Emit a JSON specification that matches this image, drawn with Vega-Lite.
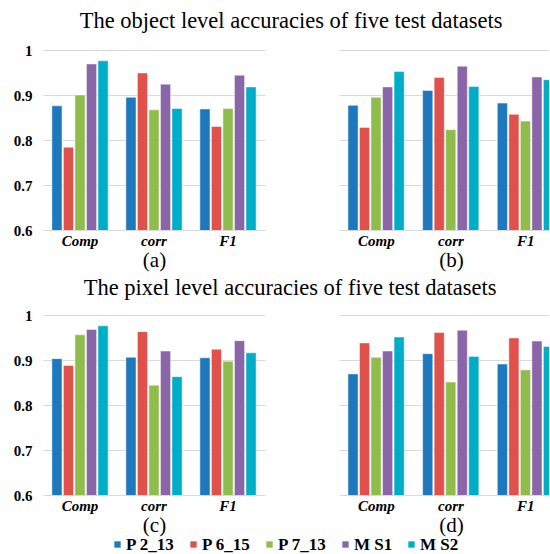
{
  "$schema": "https://vega.github.io/schema/vega-lite/v6.json",
  "padding": {"left": 13, "top": 9, "right": 0, "bottom": 0},
  "background": "#ffffff",
  "datasets": {
    "d": [
      {"panel": "a", "metric": "Comp", "series": "P 2_13", "value": 0.876},
      {"panel": "a", "metric": "Comp", "series": "P 6_15", "value": 0.784},
      {"panel": "a", "metric": "Comp", "series": "P 7_13", "value": 0.900},
      {"panel": "a", "metric": "Comp", "series": "M S1", "value": 0.969},
      {"panel": "a", "metric": "Comp", "series": "M S2", "value": 0.976},
      {"panel": "a", "metric": "corr", "series": "P 2_13", "value": 0.895},
      {"panel": "a", "metric": "corr", "series": "P 6_15", "value": 0.949},
      {"panel": "a", "metric": "corr", "series": "P 7_13", "value": 0.867},
      {"panel": "a", "metric": "corr", "series": "M S1", "value": 0.924},
      {"panel": "a", "metric": "corr", "series": "M S2", "value": 0.870},
      {"panel": "a", "metric": "F1", "series": "P 2_13", "value": 0.869},
      {"panel": "a", "metric": "F1", "series": "P 6_15", "value": 0.830},
      {"panel": "a", "metric": "F1", "series": "P 7_13", "value": 0.870},
      {"panel": "a", "metric": "F1", "series": "M S1", "value": 0.944},
      {"panel": "a", "metric": "F1", "series": "M S2", "value": 0.918},
      {"panel": "b", "metric": "Comp", "series": "P 2_13", "value": 0.877},
      {"panel": "b", "metric": "Comp", "series": "P 6_15", "value": 0.828},
      {"panel": "b", "metric": "Comp", "series": "P 7_13", "value": 0.895},
      {"panel": "b", "metric": "Comp", "series": "M S1", "value": 0.918},
      {"panel": "b", "metric": "Comp", "series": "M S2", "value": 0.952},
      {"panel": "b", "metric": "corr", "series": "P 2_13", "value": 0.910},
      {"panel": "b", "metric": "corr", "series": "P 6_15", "value": 0.939},
      {"panel": "b", "metric": "corr", "series": "P 7_13", "value": 0.823},
      {"panel": "b", "metric": "corr", "series": "M S1", "value": 0.964},
      {"panel": "b", "metric": "corr", "series": "M S2", "value": 0.919},
      {"panel": "b", "metric": "F1", "series": "P 2_13", "value": 0.882},
      {"panel": "b", "metric": "F1", "series": "P 6_15", "value": 0.857},
      {"panel": "b", "metric": "F1", "series": "P 7_13", "value": 0.842},
      {"panel": "b", "metric": "F1", "series": "M S1", "value": 0.940},
      {"panel": "b", "metric": "F1", "series": "M S2", "value": 0.934},
      {"panel": "c", "metric": "Comp", "series": "P 2_13", "value": 0.903},
      {"panel": "c", "metric": "Comp", "series": "P 6_15", "value": 0.888},
      {"panel": "c", "metric": "Comp", "series": "P 7_13", "value": 0.956},
      {"panel": "c", "metric": "Comp", "series": "M S1", "value": 0.968},
      {"panel": "c", "metric": "Comp", "series": "M S2", "value": 0.976},
      {"panel": "c", "metric": "corr", "series": "P 2_13", "value": 0.906},
      {"panel": "c", "metric": "corr", "series": "P 6_15", "value": 0.963},
      {"panel": "c", "metric": "corr", "series": "P 7_13", "value": 0.844},
      {"panel": "c", "metric": "corr", "series": "M S1", "value": 0.920},
      {"panel": "c", "metric": "corr", "series": "M S2", "value": 0.863},
      {"panel": "c", "metric": "F1", "series": "P 2_13", "value": 0.905},
      {"panel": "c", "metric": "F1", "series": "P 6_15", "value": 0.924},
      {"panel": "c", "metric": "F1", "series": "P 7_13", "value": 0.897},
      {"panel": "c", "metric": "F1", "series": "M S1", "value": 0.943},
      {"panel": "c", "metric": "F1", "series": "M S2", "value": 0.916},
      {"panel": "d", "metric": "Comp", "series": "P 2_13", "value": 0.869},
      {"panel": "d", "metric": "Comp", "series": "P 6_15", "value": 0.938},
      {"panel": "d", "metric": "Comp", "series": "P 7_13", "value": 0.906},
      {"panel": "d", "metric": "Comp", "series": "M S1", "value": 0.920},
      {"panel": "d", "metric": "Comp", "series": "M S2", "value": 0.951},
      {"panel": "d", "metric": "corr", "series": "P 2_13", "value": 0.914},
      {"panel": "d", "metric": "corr", "series": "P 6_15", "value": 0.961},
      {"panel": "d", "metric": "corr", "series": "P 7_13", "value": 0.851},
      {"panel": "d", "metric": "corr", "series": "M S1", "value": 0.966},
      {"panel": "d", "metric": "corr", "series": "M S2", "value": 0.908},
      {"panel": "d", "metric": "F1", "series": "P 2_13", "value": 0.891},
      {"panel": "d", "metric": "F1", "series": "P 6_15", "value": 0.949},
      {"panel": "d", "metric": "F1", "series": "P 7_13", "value": 0.878},
      {"panel": "d", "metric": "F1", "series": "M S1", "value": 0.942},
      {"panel": "d", "metric": "F1", "series": "M S2", "value": 0.930}
    ]
  },
  "config": {
    "view": {"stroke": null},
    "font": "Liberation Serif",
    "axis": {"labelFont": "Liberation Serif", "titleFont": "Liberation Serif", "domain": false, "ticks": false, "gridColor": "#d9d9d9", "gridWidth": 1, "labelColor": "#000000", "titleColor": "#000000"},
    "axisX": {"labelFontWeight": "bold", "labelFontStyle": "italic", "labelFontSize": 15, "labelAngle": 0, "labelPadding": 3, "titleFontSize": 21, "titleFontWeight": "normal", "titlePadding": 1, "grid": false},
    "axisY": {"labelFontWeight": "bold", "labelFontSize": 15, "labelPadding": 11, "grid": true},
    "title": {"font": "Liberation Serif", "fontSize": 22.5, "fontWeight": "normal", "color": "#000000", "anchor": "middle"},
    "legend": {"labelFont": "Liberation Serif", "labelFontWeight": "bold", "labelFontSize": 17, "labelColor": "#000000", "symbolType": "square", "symbolSize": 40, "symbolStrokeWidth": 0, "labelOffset": 0, "columnPadding": 10, "gridAlign": "none"}
  },
  "spacing": 6,
  "resolve": {"scale": {"color": "shared"}, "legend": {"color": "shared"}},
  "vconcat": [
    {
      "title": {"text": "The object level accuracies of five test datasets", "offset": 11, "dx": 10},
      "spacing": 0,
      "hconcat": [
        {
          "data": {"name": "d"},
          "transform": [{"filter": "datum.panel == 'a'"}],
          "width": 222, "height": 180,
          "mark": {"type": "bar", "stroke": "#ffffff", "strokeWidth": 0.8, "strokeOpacity": 0.6, "clip": true},
          "encoding": {
            "x": {"field": "metric", "type": "nominal", "sort": ["Comp", "corr", "F1"], "scale": {"paddingInner": 0.24, "paddingOuter": 0.12}, "axis": {"title": "(a)"}},
            "xOffset": {"field": "series", "type": "nominal", "sort": ["P 2_13", "P 6_15", "P 7_13", "M S1", "M S2"], "scale": {"paddingInner": 0.12}},
            "y": {"field": "value", "type": "quantitative", "scale": {"domain": [0.6, 1], "zero": false, "nice": false}, "axis": {"title": null, "values": [0.6, 0.7, 0.8, 0.9, 1], "labelExpr": "datum.value == 1 ? '1' : format(datum.value, '.1f')"}},
            "color": {"field": "series", "type": "nominal", "sort": ["P 2_13", "P 6_15", "P 7_13", "M S1", "M S2"], "scale": {"domain": ["P 2_13", "P 6_15", "P 7_13", "M S1", "M S2"], "range": ["#1e78be", "#e0514b", "#8fbc4b", "#8a66a8", "#00adc6"]}, "legend": {"title": null, "orient": "none", "direction": "horizontal", "legendX": 66, "legendY": 486}}
          }
        },
        {
          "data": {"name": "d"},
          "transform": [{"filter": "datum.panel == 'b'"}],
          "width": 284, "height": 180,
          "mark": {"type": "bar", "stroke": "#ffffff", "strokeWidth": 0.8, "strokeOpacity": 0.6, "clip": true},
          "encoding": {
            "x": {"field": "metric", "type": "nominal", "sort": ["Comp", "corr", "F1"], "scale": {"paddingInner": 0.24, "paddingOuter": 0.12, "range": [74, 298]}, "axis": {"title": "(b)"}},
            "xOffset": {"field": "series", "type": "nominal", "sort": ["P 2_13", "P 6_15", "P 7_13", "M S1", "M S2"], "scale": {"paddingInner": 0.12}},
            "y": {"field": "value", "type": "quantitative", "scale": {"domain": [0.6, 1], "zero": false, "nice": false}, "axis": {"title": null, "labels": false, "values": [0.6, 0.7, 0.8, 0.9, 1]}},
            "color": {"field": "series", "type": "nominal", "sort": ["P 2_13", "P 6_15", "P 7_13", "M S1", "M S2"]}
          }
        }
      ]
    },
    {
      "title": {"text": "The pixel level accuracies of five test datasets", "offset": 9, "dx": 9},
      "spacing": 0,
      "hconcat": [
        {
          "data": {"name": "d"},
          "transform": [{"filter": "datum.panel == 'c'"}],
          "width": 222, "height": 180,
          "mark": {"type": "bar", "stroke": "#ffffff", "strokeWidth": 0.8, "strokeOpacity": 0.6, "clip": true},
          "encoding": {
            "x": {"field": "metric", "type": "nominal", "sort": ["Comp", "corr", "F1"], "scale": {"paddingInner": 0.24, "paddingOuter": 0.12}, "axis": {"title": "(c)"}},
            "xOffset": {"field": "series", "type": "nominal", "sort": ["P 2_13", "P 6_15", "P 7_13", "M S1", "M S2"], "scale": {"paddingInner": 0.12}},
            "y": {"field": "value", "type": "quantitative", "scale": {"domain": [0.6, 1], "zero": false, "nice": false}, "axis": {"title": null, "values": [0.6, 0.7, 0.8, 0.9, 1], "labelExpr": "datum.value == 1 ? '1' : format(datum.value, '.1f')"}},
            "color": {"field": "series", "type": "nominal", "sort": ["P 2_13", "P 6_15", "P 7_13", "M S1", "M S2"]}
          }
        },
        {
          "data": {"name": "d"},
          "transform": [{"filter": "datum.panel == 'd'"}],
          "width": 284, "height": 180,
          "mark": {"type": "bar", "stroke": "#ffffff", "strokeWidth": 0.8, "strokeOpacity": 0.6, "clip": true},
          "encoding": {
            "x": {"field": "metric", "type": "nominal", "sort": ["Comp", "corr", "F1"], "scale": {"paddingInner": 0.24, "paddingOuter": 0.12, "range": [74, 298]}, "axis": {"title": "(d)"}},
            "xOffset": {"field": "series", "type": "nominal", "sort": ["P 2_13", "P 6_15", "P 7_13", "M S1", "M S2"], "scale": {"paddingInner": 0.12}},
            "y": {"field": "value", "type": "quantitative", "scale": {"domain": [0.6, 1], "zero": false, "nice": false}, "axis": {"title": null, "labels": false, "values": [0.6, 0.7, 0.8, 0.9, 1]}},
            "color": {"field": "series", "type": "nominal", "sort": ["P 2_13", "P 6_15", "P 7_13", "M S1", "M S2"]}
          }
        }
      ]
    }
  ]
}
